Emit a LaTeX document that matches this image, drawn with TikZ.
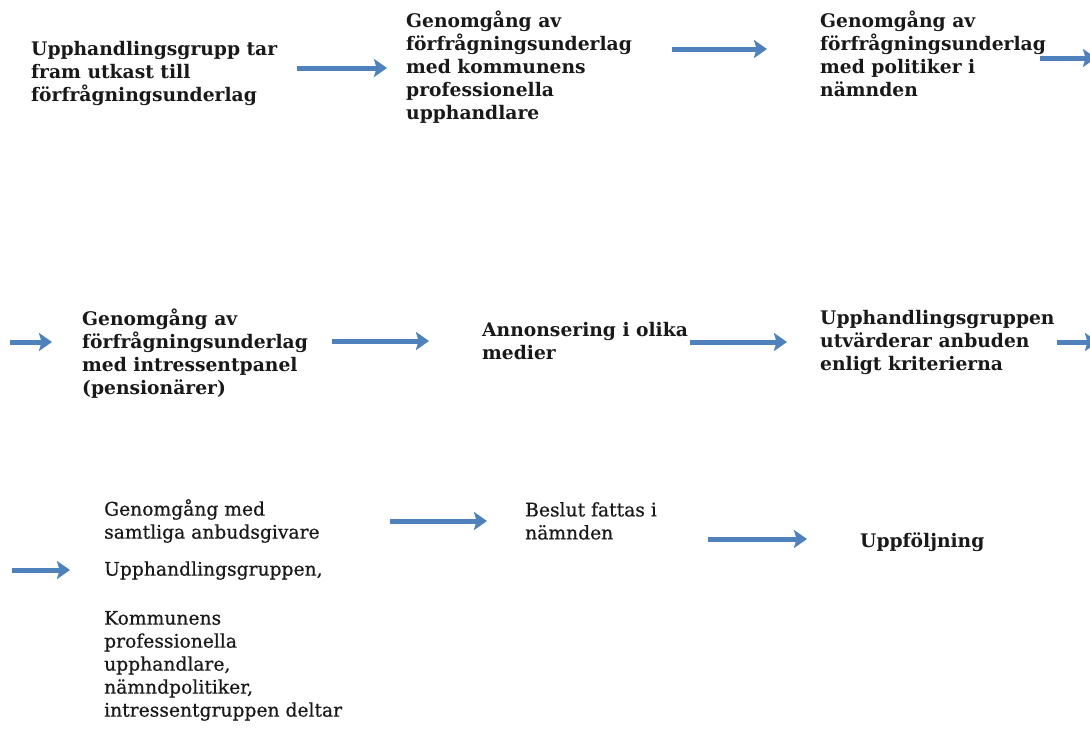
\documentclass[tikz,border=0pt]{standalone}
\usepackage{fontspec}
\setmainfont{DejaVu Serif}
\newfontfamily\midserif[FakeBold=0.6]{DejaVu Serif}
\usetikzlibrary{arrows.meta}
\definecolor{arrblue}{RGB}{79,129,189}
\tikzset{
  lbl/.style={anchor=north west, inner sep=0pt, align=left, font=\fontsize{18.7}{23}\selectfont\bfseries, text=black!90},
  lblr/.style={lbl, font=\fontsize{18.7}{23}\selectfont\midserif},
  flow/.style={draw=arrblue, line width=5pt, -{Stealth[length=13pt,width=18pt,inset=2.5pt]}}
}
\begin{document}
\begin{tikzpicture}[x=1pt,y=-1pt]
\useasboundingbox (0,0) rectangle (1090,732);
% row 1
\node[lbl] (b1) at (31,41) {Upphandlingsgrupp tar\\fram utkast till\\förfrågningsunderlag};
\node[lbl] (b2) at (406,11) {Genomgång av\\förfrågningsunderlag\\med kommunens\\professionella\\upphandlare};
\node[lbl] (b3) at (820,11) {Genomgång av\\förfrågningsunderlag\\med politiker i\\nämnden};
% row 2
\node[lbl] (b4) at (82,309) {Genomgång av\\förfrågningsunderlag\\med intressentpanel\\(pensionärer)};
\node[lbl] (b5) at (482,322) {Annonsering i olika\\medier};
\node[lbl] (b6) at (820,310) {Upphandlingsgruppen\\utvärderar anbuden\\enligt kriterierna};
% row 3
\node[lblr] (b7) at (104,499) {Genomgång med\\samtliga anbudsgivare\\[14pt]Upphandlingsgruppen,\\[26pt]Kommunens\\professionella\\upphandlare,\\nämndpolitiker,\\intressentgruppen deltar};
\node[lblr] (b8) at (525,502) {Beslut fattas i\\nämnden};
\node[lbl] (b9) at (860,533) {Uppföljning};
% arrow ends
\coordinate (a1s) at (297,68); \coordinate (a1e) at (387,68);
\coordinate (a2s) at (672,49); \coordinate (a2e) at (767,49);
\coordinate (a3s) at (1040,58); \coordinate (a3e) at (1096,58);
\coordinate (a4s) at (10,342); \coordinate (a4e) at (52,342);
\coordinate (a5s) at (332,341); \coordinate (a5e) at (429,341);
\coordinate (a6s) at (690,342); \coordinate (a6e) at (787,342);
\coordinate (a7s) at (1057,342); \coordinate (a7e) at (1098,342);
\coordinate (a8s) at (12,570); \coordinate (a8e) at (70,570);
\coordinate (a9s) at (390,521); \coordinate (a9e) at (487,521);
\coordinate (a10s) at (708,539); \coordinate (a10e) at (807,539);
\foreach \i in {1,...,10} {\draw[flow] (a\i s) -- (a\i e);}
\end{tikzpicture}
\end{document}
